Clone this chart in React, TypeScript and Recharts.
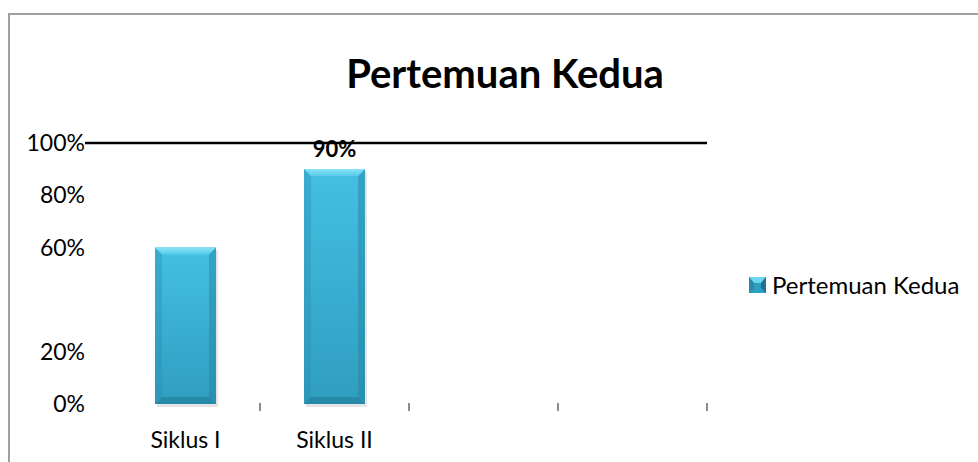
import React from 'react';
import { BarChart, Bar, XAxis, YAxis, ReferenceLine, LabelList, Legend } from 'recharts';

const categories = ['Siklus I', 'Siklus II', '', ''];
const pertemuanKedua = [60, 90, null, null];
const valueLabels = ['', '90%', '', ''];
const yTicks = [0, 20, 60, 80, 100];

const data = categories.map((name, i) => ({
  name,
  value: pertemuanKedua[i],
  label: valueLabels[i],
}));

const FONT = 'Lato, "Open Sans", sans-serif';
const PLOT_WIDTH = 596;
const BAND = PLOT_WIDTH / categories.length;

const BevelBar = (props: any) => {
  const { x, y, width, height } = props;
  if (!height || height <= 0) return null;
  const b = 7;
  const r = x + width;
  const bt = y + height;
  return (
    <g>
      <rect x={x + 2} y={y + 3} width={width} height={height} fill="#000" opacity={0.1} />
      <rect x={x} y={y} width={width} height={height} fill="url(#barBody)" />
      <polygon points={`${x},${y} ${x + b},${y + b} ${x + b},${bt - b} ${x},${bt}`} fill="#2a8fb0" opacity={0.4} />
      <polygon points={`${r},${y} ${r - b},${y + b} ${r - b},${bt - b} ${r},${bt}`} fill="#23809f" opacity={0.45} />
      <polygon points={`${x},${bt} ${x + b},${bt - b} ${r - b},${bt - b} ${r},${bt}`} fill="#1f7390" opacity={0.5} />
      <polygon points={`${x},${y} ${r},${y} ${r - b},${y + b} ${x + b},${y + b}`} fill="url(#barTop)" />
    </g>
  );
};

const XTick = (props: any) => {
  const { x, y, payload } = props;
  const mx = x + BAND / 2;
  return (
    <g>
      <line x1={mx} y1={y - 1} x2={mx} y2={y + 7} stroke="#8c8c8c" strokeWidth={2} />
      <text x={x} y={y + 36} dy="0.355em" textAnchor="middle" fill="#000" fontSize={23} fontFamily={FONT}>
        {payload.value}
      </text>
    </g>
  );
};

const TopLine = (props: any) => (
  <line x1={props.x1 - 26} y1={props.y1} x2={props.x2} y2={props.y2} stroke="#000" strokeWidth={2.5} />
);

const DataLabel = (props: any) => {
  const { x, y, width, value } = props;
  if (!value) return null;
  return (
    <text x={x + width / 2} y={y - 12} textAnchor="middle" fill="#000" fontSize={22} fontWeight="bold" fontFamily={FONT}>
      {value}
    </text>
  );
};

const LegendContent = () => (
  <div style={{ display: 'flex', alignItems: 'center', fontFamily: FONT, fontSize: 24, color: '#000', whiteSpace: 'nowrap' }}>
    <svg width={17} height={16} style={{ marginRight: 6 }}>
      <rect x={0} y={0} width={17} height={16} fill="#2e9fc4" />
      <polygon points="0,0 17,0 12,6 5,6" fill="#6fd6f0" />
      <polygon points="0,0 5,6 5,11 0,16" fill="#2788a8" />
      <polygon points="17,0 12,6 12,11 17,16" fill="#1f7390" />
    </svg>
    <span>Pertemuan Kedua</span>
  </div>
);

export default function App() {
  return (
    <div style={{ position: 'fixed', left: 0, top: 0, width: 978, height: 462, background: '#fff', overflow: 'hidden' }}>
      <div
        style={{
          position: 'absolute',
          left: 8,
          top: 13,
          width: 1000,
          height: 500,
          borderLeft: '2px solid #a0a0a0',
          borderTop: '2px solid #a0a0a0',
        }}
      />
      <div
        style={{
          position: 'absolute',
          left: 0,
          width: 1010,
          top: 48,
          textAlign: 'center',
          fontFamily: FONT,
          fontWeight: 'bold',
          fontSize: 40,
          lineHeight: '50px',
          color: '#000',
        }}
      >
        Pertemuan Kedua
      </div>
      <div style={{ position: 'absolute', left: 0, top: 0 }}>
        <BarChart width={978} height={462} data={data} margin={{ top: 143, right: 271, bottom: 28, left: 0 }} barSize={61}>
          <defs>
            <linearGradient id="barBody" x1="0" y1="0" x2="0" y2="1">
              <stop offset="0%" stopColor="#44c0e2" />
              <stop offset="100%" stopColor="#2f9dc0" />
            </linearGradient>
            <linearGradient id="barTop" x1="0" y1="0" x2="0" y2="1">
              <stop offset="0%" stopColor="#8ae2f5" />
              <stop offset="100%" stopColor="#55cbea" />
            </linearGradient>
          </defs>
          <XAxis
            dataKey="name"
            height={30}
            axisLine={false}
            tickLine={false}
            tickSize={0}
            tickMargin={0}
            interval={0}
            tick={<XTick />}
          />
          <YAxis
            width={111}
            domain={[0, 100]}
            ticks={yTicks}
            interval={0}
            axisLine={false}
            tickLine={false}
            tickSize={0}
            tickMargin={26}
            tickFormatter={(v: number) => `${v}%`}
            tick={{ fill: '#000', fontSize: 23, fontFamily: FONT }}
          />
          <Bar dataKey="value" name="Pertemuan Kedua" shape={<BevelBar />} isAnimationActive={false}>
            <LabelList dataKey="label" content={<DataLabel />} />
          </Bar>
          <ReferenceLine y={100} shape={<TopLine />} />
          <Legend
            layout="vertical"
            align="center"
            verticalAlign="middle"
            wrapperStyle={{ left: 749, top: 270, width: 'auto', height: 'auto' }}
            content={<LegendContent />}
          />
        </BarChart>
      </div>
    </div>
  );
}
